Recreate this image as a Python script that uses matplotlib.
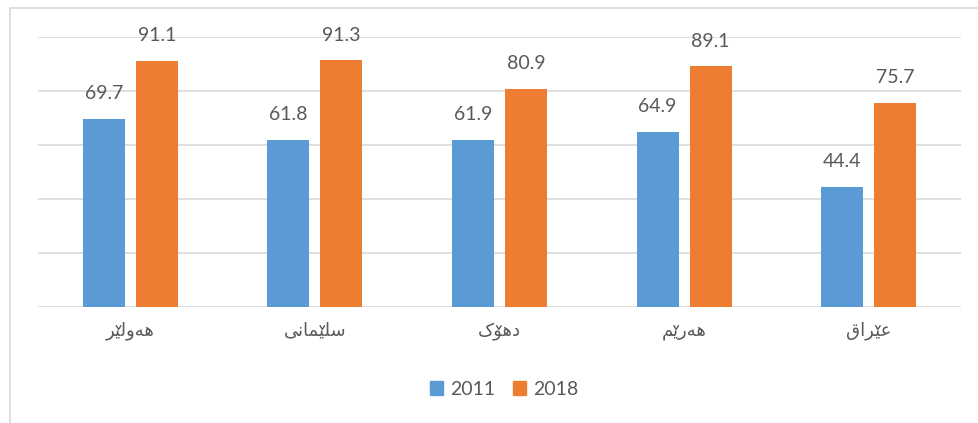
import numpy as np
import matplotlib
matplotlib.use('Agg')
import matplotlib.pyplot as plt
from matplotlib.patches import Rectangle, Patch
from matplotlib.lines import Line2D
from matplotlib.font_manager import FontProperties
from matplotlib.transforms import IdentityTransform

# data
categories = ['هەولێر', 'سلێمانی', 'دهۆک', 'هەرێم', 'عێراق']
series_names = ['2011', '2018']
values_2011 = [69.7, 61.8, 61.9, 64.9, 44.4]
values_2018 = [91.1, 91.3, 80.9, 89.1, 75.7]

# matplotlib does no arabic shaping, so pick the presentation forms by hand
# (isolated, final, initial, medial); None = letter does not join to the left
FORMS = {
    'ه': ('\uFEE9', '\uFEEA', '\uFEEB', '\uFEEC'),
    'ە': ('\uFEE9', '\uFEEA', None, None),
    'و': ('\uFEED', '\uFEEE', None, None),
    'ۆ': ('\uFEED', '\uFEEE', None, None),
    'ل': ('\uFEDD', '\uFEDE', '\uFEDF', '\uFEE0'),
    'ێ': ('\uFEEF', '\uFEF0', '\uFEF3', '\uFEF4'),
    'ی': ('\uFEEF', '\uFEF0', '\uFEF3', '\uFEF4'),
    'ر': ('\uFEAD', '\uFEAE', None, None),
    'س': ('\uFEB1', '\uFEB2', '\uFEB3', '\uFEB4'),
    'م': ('\uFEE1', '\uFEE2', '\uFEE3', '\uFEE4'),
    'ا': ('\uFE8D', '\uFE8E', None, None),
    'ن': ('\uFEE5', '\uFEE6', '\uFEE7', '\uFEE8'),
    'د': ('\uFEA9', '\uFEAA', None, None),
    'ک': ('\uFB8E', '\uFB8F', '\uFB90', '\uFB91'),
    'ع': ('\uFEC9', '\uFECA', '\uFECB', '\uFECC'),
    'ق': ('\uFED5', '\uFED6', '\uFED7', '\uFED8'),
}
WITH_V = 'ێۆ'  # letters that carry a small v above


def shape(word):
    glyphs, marks = [], []
    n = len(word)
    for i, ch in enumerate(word):
        f = FORMS[ch]
        prev_joins = i > 0 and FORMS[word[i - 1]][2] is not None
        next_joins = i < n - 1 and f[2] is not None
        if prev_joins and next_joins:
            g = f[3]
        elif prev_joins:
            g = f[1]
        elif next_joins:
            g = f[2]
        else:
            g = f[0]
        glyphs.append(g)
        marks.append(ch in WITH_V)
    return glyphs[::-1], marks[::-1]


blue = '#5B9BD5'
orange = '#ED7D31'
grid_col = '#D9D9D9'
txt_col = '#595959'

fig = plt.figure(figsize=(9.79, 4.23), dpi=100)
ax = fig.add_axes([38/979, 116/423, (961-38)/979, 270/423])

x = np.arange(len(categories))
w = 0.2275
off = 0.1437
b1 = ax.bar(x - off, values_2011, w, color=blue, zorder=3)
b2 = ax.bar(x + off, values_2018, w, color=orange, zorder=3)
for b in (b1, b2):
    ax.bar_label(b, fmt='%.1f', padding=12, fontsize=14, color=txt_col,
                 family=['Lato', 'DejaVu Sans'])

ax.set_xlim(-0.5, len(categories) - 0.5)
ax.set_ylim(0, 100)
ax.set_yticks(range(0, 101, 20))
ax.yaxis.grid(True, color=grid_col, linewidth=1.2, zorder=0)
ax.set_yticklabels([])
ax.set_xticks(x)
ax.set_xticklabels([])
ax.tick_params(length=0)
for s in ax.spines.values():
    s.set_visible(False)

# category labels, drawn by hand so the small v marks can be put over their letters
fp = FontProperties(family='DejaVu Sans', size=13)
renderer = fig.canvas.get_renderer()


def text_w(s):
    if not s:
        return 0.0
    return renderer.get_text_width_height_descent(s, fp, ismath=False)[0]


lab_y = -0.055
for xi, word in zip(x, categories):
    glyphs, marks = shape(word)
    s = ''.join(glyphs)
    ax.text(xi, lab_y, s, transform=ax.get_xaxis_transform(), ha='center', va='top',
            fontproperties=fp, color=txt_col)
    cx, cy = ax.get_xaxis_transform().transform((xi, lab_y))
    W = text_w(s)
    for k, m in enumerate(marks):
        if not m:
            continue
        gx = cx - W / 2 + text_w(''.join(glyphs[:k])) + text_w(glyphs[k]) / 2
        gy = cy - 6
        fig.add_artist(Line2D([gx - 2.2, gx, gx + 2.2], [gy + 2, gy - 1.5, gy + 2],
                              transform=IdentityTransform(), color=txt_col, linewidth=1.0))

handles = [Patch(color=blue), Patch(color=orange)]
fig.legend(handles, series_names, loc='center', bbox_to_anchor=(504/979, 1 - 389/423),
           ncol=2, frameon=False, handlelength=0.7, handleheight=0.7,
           handletextpad=0.35, columnspacing=0.9,
           prop={'family': ['Lato', 'DejaVu Sans'], 'size': 14},
           labelcolor=txt_col)

fig.patches.append(Rectangle((9.5/979, -0.1), 1.2, 1.1 - 8.5/423, transform=fig.transFigure,
                             fill=False, edgecolor=grid_col, linewidth=1.2))

fig.savefig('out.png', dpi=100)
